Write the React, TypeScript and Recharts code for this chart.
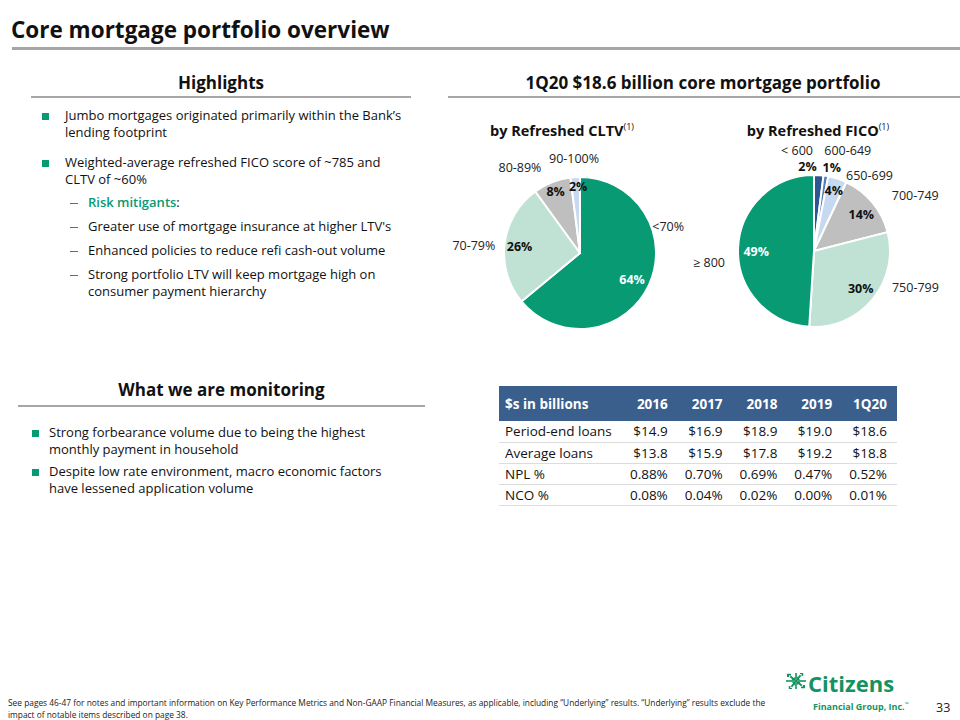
import React from "react";
import { PieChart, Pie, Cell } from "recharts";

// pie data (share of core mortgage portfolio, %)
const cltvNames = ["<70%", "70-79%", "80-89%", "90-100%"];
const cltvShares = [64, 26, 8, 2];
const ficoNames = ["< 600", "600-649", "650-699", "700-749", "750-799", "≥ 800"];
const ficoShares = [2, 1, 4, 14, 30, 49];

// table
const tableTitle = "$s in billions";
const tablePeriods = ["2016", "2017", "2018", "2019", "1Q20"];
const periodEndLoans = [14.9, 16.9, 18.9, 19.0, 18.6];
const averageLoans = [13.8, 15.9, 17.8, 19.2, 18.8];
const nplRates = [0.88, 0.7, 0.69, 0.47, 0.52];
const ncoRates = [0.08, 0.04, 0.02, 0.0, 0.01];

const FONT = '"Open Sans", "Noto Sans", sans-serif';
const GREEN = "#079a73";
const LOGO = "#14935f";
const MINT = "#bfe2d4";
const GREY = "#bfbfbf";
const LIGHTBLUE = "#c6d9f0";
const MIDBLUE = "#4f7fc0";
const DARKBLUE = "#2c5592";
const HEADBLUE = "#3b5f8d";

const cltvColors = [GREEN, MINT, GREY, LIGHTBLUE];
const ficoColors = [DARKBLUE, MIDBLUE, LIGHTBLUE, GREY, MINT, GREEN];

// label placement: [shift from slice mid angle in deg, radius factor]
const cltvPctPos = [[2, 0.77], [-1, 0.8], [0, 0.87], [2, 0.88]];
const cltvNamePos = [[-41.7, 1.21], [-3, 1.4], [-13.6, 1.37], [0, 1.25]];
const ficoPctPos = [[-8, 1.12], [3, 1.12], [0, 0.84], [1.6, 0.79], [-0.6, 0.79], [-1.8, 0.76]];
const ficoNamePos = [[-13.2, 1.34], [9.5, 1.4], [18.4, 1.23], [10.8, 1.52], [-19.6, 1.42], [-8.3, 1.39]];

const makeLabel =
  (names: string[], shares: number[], pctPos: number[][], namePos: number[][], whiteIdx: number) =>
  (p: any) => {
    const { cx, cy, midAngle, outerRadius, index } = p;
    const theta = 90 - midAngle; // clockwise from 12 o'clock
    const at = (pos: number[]) => {
      const a = ((theta + pos[0]) * Math.PI) / 180;
      return [cx + pos[1] * outerRadius * Math.sin(a), cy - pos[1] * outerRadius * Math.cos(a)];
    };
    const [px, py] = at(pctPos[index]);
    const [nx, ny] = at(namePos[index]);
    return (
      <g key={`lbl-${index}`}>
        <text
          x={px}
          y={py}
          textAnchor="middle"
          dominantBaseline="central"
          fontFamily={FONT}
          fontSize={12.5}
          fontWeight={700}
          fill={index === whiteIdx ? "#fff" : "#111"}
        >
          {shares[index]}%
        </text>
        <text x={nx} y={ny} textAnchor="middle" dominantBaseline="central" fontFamily={FONT} fontSize={12.5} fill="#222">
          {names[index]}
        </text>
      </g>
    );
  };

const cltvData = cltvNames.map((name, i) => ({ name, value: cltvShares[i] }));
const ficoData = ficoNames.map((name, i) => ({ name, value: ficoShares[i] }));

const fmtMoney = (v: number) => `$${v.toFixed(1)}`;
const fmtPct = (v: number) => `${v.toFixed(2)}%`;
const tableRows = [
  { label: "Period-end loans", cells: periodEndLoans.map(fmtMoney) },
  { label: "Average loans", cells: averageLoans.map(fmtMoney) },
  { label: "NPL %", cells: nplRates.map(fmtPct) },
  { label: "NCO %", cells: ncoRates.map(fmtPct) },
];

const abs = (left: number, top: number, extra: React.CSSProperties = {}): React.CSSProperties => ({
  position: "absolute",
  left,
  top,
  ...extra,
});

function Bullet({ x, y, lines, textX }: { x: number; y: number; lines: string[]; textX: number }) {
  return (
    <>
      <div style={abs(x, y - 3, { width: 6.5, height: 6.5, background: GREEN })} />
      <div style={abs(textX, y - 9, { fontSize: 13, lineHeight: "16.5px", color: "#111", whiteSpace: "nowrap" })}>
        {lines.map((l, i) => (
          <div key={i}>{l}</div>
        ))}
      </div>
    </>
  );
}

function Dash({ y, lines, children }: { y: number; lines?: string[]; children?: React.ReactNode }) {
  return (
    <>
      <div style={abs(70, y, { width: 8, height: 1.2, background: GREEN })} />
      <div style={abs(88, y - 9, { fontSize: 13, lineHeight: "16.5px", color: "#111", whiteSpace: "nowrap" })}>
        {children ?? lines!.map((l, i) => <div key={i}>{l}</div>)}
      </div>
    </>
  );
}

// rough version of the Citizens mark: four arrows pointing at the centre
function Logo() {
  return (
    <svg style={abs(786, 673)} width={20} height={16} viewBox="0 0 20 16">
      {[0, 90, 180, 270].map((r) => (
        <g key={r} transform={`translate(10,8) rotate(${r}) scale(1,0.8)`}>
          <path d="M-9,-9 L-5,-9 L-5,-7 L-7,-7 L-7,-5 L-9,-5 Z" fill={LOGO} />
          <path d="M-6.5,-5 L-5,-6.5 L-2.2,-3.7 L-1,-5 L-1,-1 L-5,-1 L-3.7,-2.2 Z" fill={LOGO} />
        </g>
      ))}
      <rect x={9.2} y={0} width={1.6} height={16} fill={LOGO} />
      <rect x={0} y={7.2} width={20} height={1.6} fill={LOGO} />
    </svg>
  );
}

export default function App() {
  const numCell: React.CSSProperties = { textAlign: "right", width: 55, padding: 0 };
  return (
    <div
      style={{
        position: "absolute",
        left: 0,
        top: 0,
        width: 960,
        height: 720,
        background: "#fff",
        overflow: "hidden",
        fontFamily: FONT,
        color: "#111",
      }}
    >
      {/* title */}
      <div style={abs(11, 14, { fontSize: 22.5, fontWeight: 700, lineHeight: "32px", whiteSpace: "nowrap" })}>
        Core mortgage portfolio overview
      </div>
      <div style={abs(12, 47, { width: 948, height: 3, background: "#a6a6a6" })} />

      {/* section headers */}
      <div style={abs(31, 72, { width: 380, textAlign: "center", fontSize: 17, fontWeight: 700, lineHeight: "22px" })}>
        Highlights
      </div>
      <div style={abs(31, 96, { width: 380, height: 2, background: "#a6a6a6" })} />
      <div style={abs(448, 72, { width: 510, textAlign: "center", fontSize: 17, fontWeight: 700, lineHeight: "22px" })}>
        1Q20 $18.6 billion core mortgage portfolio
      </div>
      <div style={abs(448, 96, { width: 512, height: 2, background: "#a6a6a6" })} />

      {/* highlights */}
      <Bullet x={42} y={116} textX={65} lines={["Jumbo mortgages originated primarily within the Bank’s", "lending footprint"]} />
      <Bullet x={42} y={163} textX={65} lines={["Weighted-average refreshed FICO score of ~785 and", "CLTV of ~60%"]} />
      <Dash y={203}>
        <span style={{ color: GREEN, fontWeight: 600 }}>Risk mitigants</span>:
      </Dash>
      <Dash y={227} lines={["Greater use of mortgage insurance at higher LTV's"]} />
      <Dash y={251} lines={["Enhanced policies to reduce refi cash-out volume"]} />
      <Dash y={275} lines={["Strong portfolio LTV will keep mortgage high on", "consumer payment hierarchy"]} />

      {/* monitoring */}
      <div style={abs(18, 379, { width: 407, textAlign: "center", fontSize: 17, fontWeight: 700, lineHeight: "22px" })}>
        What we are monitoring
      </div>
      <div style={abs(18, 405, { width: 407, height: 2, background: "#a6a6a6" })} />
      <Bullet x={32} y={433} textX={49} lines={["Strong forbearance volume due to being the highest", "monthly payment in household"]} />
      <Bullet
        x={32}
        y={472}
        textX={49}
        lines={["Despite low rate environment, macro economic factors", "have lessened application volume"]}
      />

      {/* pie titles */}
      <div style={abs(462, 116, { width: 200, textAlign: "center", fontSize: 14.5, fontWeight: 700, lineHeight: "22px" })}>
        by Refreshed CLTV<sup style={{ fontSize: 9, fontWeight: 400 }}>(1)</sup>
      </div>
      <div style={abs(718, 116, { width: 200, textAlign: "center", fontSize: 14.5, fontWeight: 700, lineHeight: "22px" })}>
        by Refreshed FICO<sup style={{ fontSize: 9, fontWeight: 400 }}>(1)</sup>
      </div>

      {/* pies */}
      <div style={abs(430, 110)}>
        <PieChart width={530} height={240}>
          <Pie
            data={cltvData}
            dataKey="value"
            nameKey="name"
            cx={145}
            cy={138}
            outerRadius={76}
            startAngle={90}
            endAngle={-270}
            stroke="#fff"
            strokeWidth={2}
            labelLine={false}
            label={makeLabel(cltvNames, cltvShares, cltvPctPos, cltvNamePos, 0)}
            isAnimationActive={false}
          >
            {cltvData.map((d, i) => (
              <Cell key={d.name} fill={cltvColors[i]} />
            ))}
          </Pie>
          <Pie
            data={ficoData}
            dataKey="value"
            nameKey="name"
            cx={379}
            cy={136}
            outerRadius={76}
            startAngle={90}
            endAngle={-270}
            stroke="#fff"
            strokeWidth={2}
            labelLine={false}
            label={makeLabel(ficoNames, ficoShares, ficoPctPos, ficoNamePos, 5)}
            isAnimationActive={false}
          >
            {ficoData.map((d, i) => (
              <Cell key={d.name} fill={ficoColors[i]} />
            ))}
          </Pie>
        </PieChart>
      </div>

      {/* table */}
      <table
        style={abs(499, 386, {
          borderCollapse: "collapse",
          width: 398,
          fontSize: 13.5,
          fontFamily: FONT,
        })}
      >
        <thead>
          <tr style={{ background: HEADBLUE, color: "#fff", height: 35 }}>
            <th style={{ textAlign: "left", paddingLeft: 6, width: 107, fontWeight: 700 }}>{tableTitle}</th>
            {tablePeriods.map((p, i) => (
              <th key={p} style={{ ...numCell, fontWeight: 700, paddingRight: i === 4 ? 10 : 0 }}>
                {p}
              </th>
            ))}
          </tr>
        </thead>
        <tbody>
          {tableRows.map((r) => (
            <tr key={r.label} style={{ height: 21, borderBottom: "1px solid #dcdcdc" }}>
              <td style={{ paddingLeft: 6, whiteSpace: "nowrap" }}>{r.label}</td>
              {r.cells.map((c, i) => (
                <td key={i} style={{ ...numCell, paddingRight: i === 4 ? 10 : 0 }}>
                  {c}
                </td>
              ))}
            </tr>
          ))}
        </tbody>
      </table>

      {/* footer */}
      <div
        style={abs(8, 697, {
          fontSize: 9,
          lineHeight: "12px",
          color: "#222",
          whiteSpace: "nowrap",
          transform: "scaleX(0.928)",
          transformOrigin: "left top",
        })}
      >
        <div>
          See pages 46-47 for notes and important information on Key Performance Metrics and Non-GAAP Financial Measures, as
          applicable, including “Underlying” results. “Underlying” results exclude the
        </div>
        <div>impact of notable items described on page 38.</div>
      </div>
      <Logo />
      <div style={abs(808, 671, { fontSize: 22, fontWeight: 700, color: LOGO, lineHeight: "24px" })}>Citizens</div>
      <div style={abs(813, 699, { fontSize: 9, fontWeight: 700, color: LOGO, lineHeight: "11px" })}>
        Financial Group, Inc.<sup style={{ fontSize: 5 }}>™</sup>
      </div>
      <div style={abs(936, 700, { fontSize: 12.5, lineHeight: "16px", color: "#222" })}>33</div>
    </div>
  );
}
